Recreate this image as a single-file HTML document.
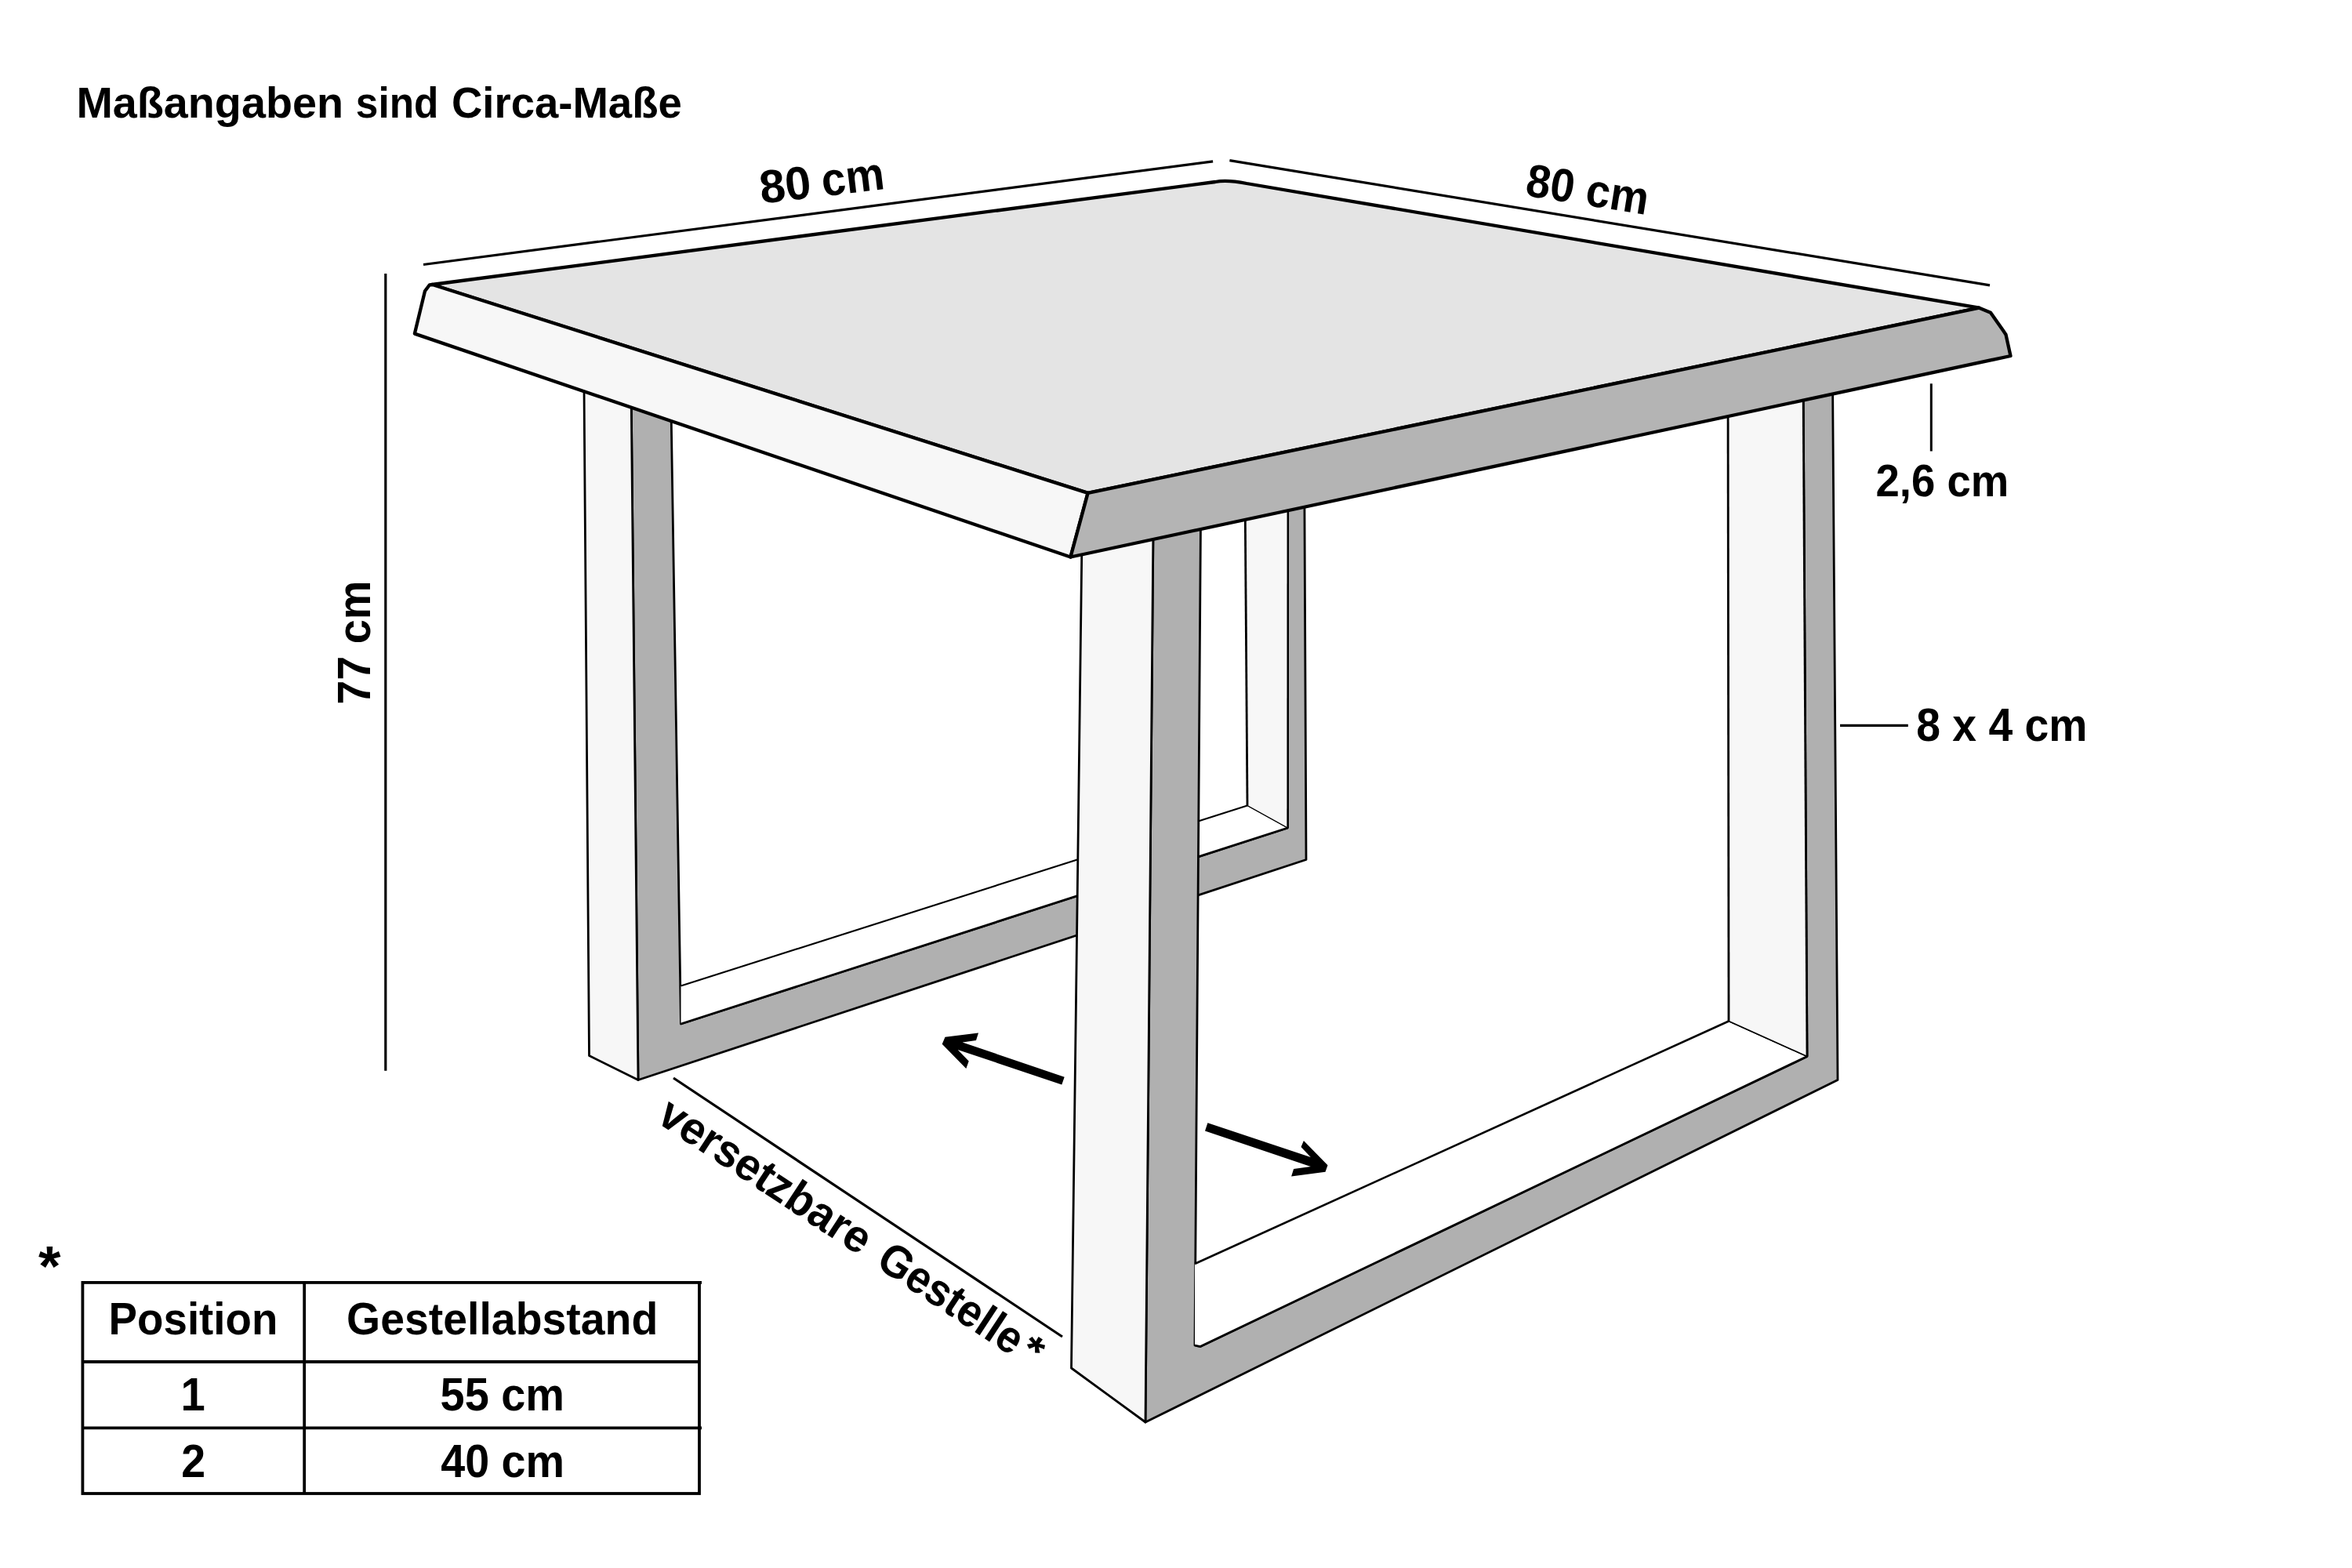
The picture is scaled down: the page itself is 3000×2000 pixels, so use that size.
<!DOCTYPE html>
<html><head><meta charset="utf-8"><title>Tisch Maße</title>
<style>html,body{margin:0;padding:0;background:#fff;overflow:hidden;width:3000px;height:2000px;} svg{display:block;}</style></head>
<body><svg width="3000" height="2000" viewBox="0 0 3000 2000">
<rect width="3000" height="2000" fill="#fff"/>
<polygon points="804.8,470 855.2,470 868.5,1306 1642.5,1056 1642.7,620 1663.8,620 1666,1096.5 814,1377.5" fill="#b0b0b0" stroke="#000" stroke-width="2.8" stroke-linejoin="round"/>
<polygon points="868.5,1257.5 1591,1027.5 1642.5,1056 868.5,1306" fill="#ffffff"/>
<line x1="868.5" y1="1257.5" x2="1591" y2="1027.5" stroke="#000" stroke-width="2.2"/>
<line x1="1591" y1="1027.5" x2="1642.5" y2="1056" stroke="#000" stroke-width="1.4"/>
<line x1="868.5" y1="1306" x2="1642.5" y2="1056" stroke="#000" stroke-width="2.8"/>
<polygon points="1588,620 1642.7,620 1642.5,1056 1591,1027.5" fill="#f7f7f7"/>
<polyline points="1591,1027.5 1588,620" fill="none" stroke="#000" stroke-width="2.8"/>
<polyline points="1642.7,620 1642.5,1056" fill="none" stroke="#000" stroke-width="2.2"/>
<line x1="1591" y1="1027.5" x2="1642.5" y2="1056" stroke="#000" stroke-width="1.4"/>
<polygon points="744.8,470 804.8,470 814,1377.5 751.5,1346.5" fill="#f7f7f7" stroke="#000" stroke-width="2.8" stroke-linejoin="round"/>
<polygon points="1471.2,650 1531.6,650 1524,1716 1531,1717.5 2305,1347.5 2300,480 2337.5,480 2344,1377.5 1461,1814" fill="#b0b0b0" stroke="#000" stroke-width="2.8" stroke-linejoin="round"/>
<polygon points="1524,1612 2205,1302.5 2305,1347.5 1531,1717.5 1524,1716" fill="#ffffff"/>
<line x1="1524" y1="1612" x2="2205" y2="1302.5" stroke="#000" stroke-width="2.6"/>
<line x1="2205" y1="1302.5" x2="2305" y2="1347.5" stroke="#000" stroke-width="1.6"/>
<polyline points="1524,1716 1531,1717.5 2305,1347.5" fill="none" stroke="#000" stroke-width="2.8"/>
<polygon points="2204,480 2300,480 2305,1347.5 2205,1302.5" fill="#f7f7f7"/>
<polyline points="2205,1302.5 2204,480" fill="none" stroke="#000" stroke-width="2.8"/>
<polyline points="2300,480 2305,1347.5" fill="none" stroke="#000" stroke-width="2.8"/>
<line x1="2205" y1="1302.5" x2="2305" y2="1347.5" stroke="#000" stroke-width="1.6"/>
<polygon points="1380.5,650 1471.2,650 1461,1814 1366.5,1745" fill="#f7f7f7" stroke="#000" stroke-width="2.8" stroke-linejoin="round"/>
<path d="M551,363 L1550,232 Q1565,229 1590,234 L2524.5,392.7 L1387.6,628.9 Z" fill="#e4e4e4" stroke="#000" stroke-width="4.3" stroke-linejoin="round"/>
<path d="M551.5,363 L548,363.3 L542,371.3 L528.9,425.6 L1365.5,710.5 L1387.6,628.9 Z" fill="#f7f7f7" stroke="#000" stroke-width="4.3" stroke-linejoin="round"/>
<path d="M1387.6,628.9 L2524.5,392.7 L2539,398.7 L2555,421.6 L2558.5,426.7 L2564.5,454 L1365.5,710.5 Z" fill="#b4b4b4" stroke="#000" stroke-width="4.3" stroke-linejoin="round"/>
<line x1="540" y1="337.5" x2="1547.1" y2="205.9" stroke="#000" stroke-width="3.2"/>
<line x1="1568.4" y1="204.7" x2="2538" y2="363.8" stroke="#000" stroke-width="3.2"/>
<line x1="491.8" y1="349" x2="491.8" y2="1365.7" stroke="#000" stroke-width="3.2"/>
<line x1="2463.3" y1="489.3" x2="2463.3" y2="575.5" stroke="#000" stroke-width="3"/>
<line x1="2347" y1="925.3" x2="2433.8" y2="925.3" stroke="#000" stroke-width="3.2"/>
<line x1="859" y1="1375" x2="1355" y2="1705" stroke="#000" stroke-width="3.2"/>
<polygon points="1357.7,1373.8 1354.3,1383.5 1221.7,1338.9 1235.7,1353.4 1232.3,1363.1 1201.7,1331.7 1205.5,1322.7 1248,1317.6 1245,1327 1227.6,1329.5" fill="#000"/>
<polygon points="1540.4,1432.3 1671.8,1476.1 1659.5,1462.9 1662.9,1454.9 1693.5,1486.3 1690.5,1494.8 1647.1,1500.4 1650.1,1491 1671.8,1488 1537,1442.5" fill="#000"/>
<g stroke="#000" stroke-width="3.8" fill="none"><rect x="105.4" y="1635.9" width="786.6" height="269.1"/><line x1="388.2" y1="1635.9" x2="388.2" y2="1905"/><line x1="105.4" y1="1737" x2="892" y2="1737"/><line x1="105.4" y1="1821.4" x2="895" y2="1821.4"/><line x1="892" y1="1635.9" x2="895" y2="1635.9"/></g>
<g font-family="Liberation Sans, sans-serif" font-weight="bold" fill="#000">
<text transform="translate(97.40,149.50) scale(0.9912,1)" font-size="56.23">Maßangaben</text>
<text transform="translate(453.84,149.50) scale(0.9138,1)" font-size="56.23">sind</text>
<text transform="translate(576.02,149.50) scale(0.9694,1)" font-size="56.23">Circa-Maße</text>
<text transform="translate(138.57,1702.20) scale(0.9555,1)" font-size="57.25">Position</text>
<text transform="translate(442.08,1702.20) scale(0.9679,1)" font-size="57.25">Gestellabstand</text>
<text transform="translate(230.43,1798.70) scale(0.9593,1)" font-size="58.55">1</text>
<text transform="translate(561.62,1798.70) scale(0.9543,1)" font-size="58.55">55 cm</text>
<text transform="translate(231.33,1883.80) scale(0.9481,1)" font-size="58.55">2</text>
<text transform="translate(562.19,1883.80) scale(0.9508,1)" font-size="58.55">40 cm</text>
<text transform="translate(2392.46,632.80) scale(0.9527,1)" font-size="57.25">2,6 cm</text>
<text transform="translate(2444.24,944.70) scale(0.9257,1)" font-size="59.71">8 x 4 cm</text>
<text transform="translate(48.90,1640.38) scale(1.0089,1)" font-size="72.43">*</text>
<text transform="translate(472.40,896.60) rotate(-90.000) translate(-2.23,0) scale(0.9511,1)" font-size="58.70">77 cm</text>
<text transform="translate(44.16,370.38) rotate(-6.800) translate(933.63,0) scale(0.9936,1)" font-size="59.42">80</text>
<text transform="translate(44.16,370.38) rotate(-6.800) translate(1013.07,0) scale(0.9369,1)" font-size="59.42">cm</text>
<text transform="translate(1946.00,249.50) rotate(9.100) translate(-1.66,0) scale(0.9336,1)" font-size="59.42">80 cm</text>
<text transform="translate(-404.05,612.78) rotate(33.400) translate(1484.94,0) scale(0.9689,1)" font-size="57.97">versetzbare</text>
<text transform="translate(-404.05,612.78) rotate(33.400) translate(1819.84,0) scale(0.9302,1)" font-size="57.97">Gestelle</text>
<text transform="translate(-404.05,612.78) rotate(33.4) translate(2035.40,-3.64) scale(1.1677,1)" font-size="52.70">*</text>
</g>
</svg></body></html>
